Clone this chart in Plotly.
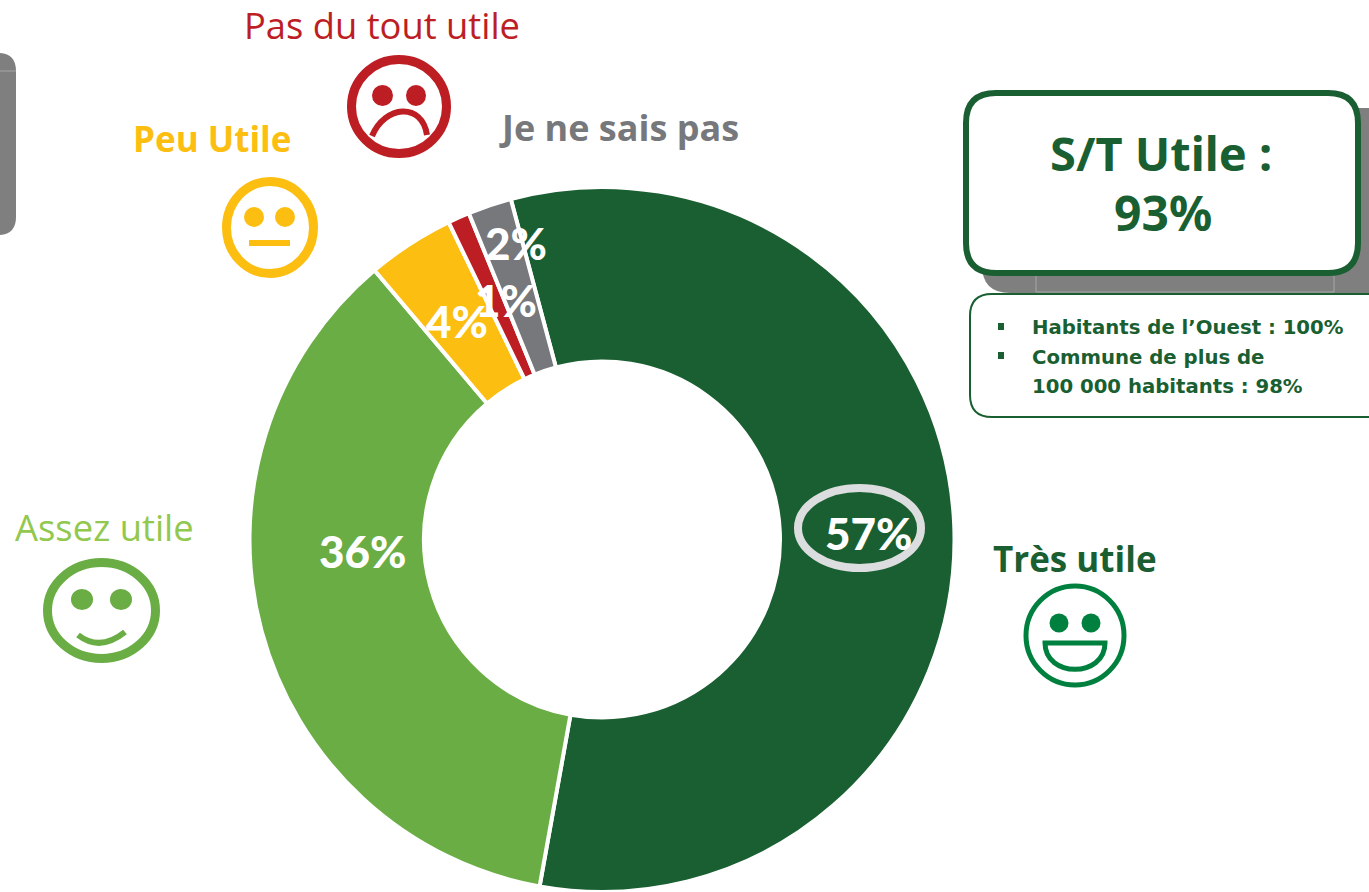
import plotly.graph_objects as go

W, H = 1369, 892

# Chart data
categories = ["Très utile", "Assez utile", "Peu Utile", "Pas du tout utile", "Je ne sais pas"]
values = [57, 36, 4, 1, 2]
slice_colors = ["#1a5f31", "#6aad45", "#fdbe12", "#bd1e24", "#77787b"]

# Layout constants
CX, CY, R = 602, 539.5, 352.5
HOLE = 0.505
value_label_centres = [(868, 533), (362, 551), (457, 321), (506, 300), (516, 243)]
category_label_specs = [
    (1075, 558, "#1a5f31", 35, True),
    (104, 527, "#92c84e", 36.4, False),
    (212, 139, "#fdbe12", 35, True),
    (382, 25, "#bd1e24", 36.3, False),
    (619, 128, "#77787b", 36, True),
]
FONT = "Open Sans"
BOLD_FONT = "Noto Sans"
BOX_FONT = "DejaVu Sans"
DARK = "#1a5f31"
SHADOW = "#7f7f7f"


def px(x):
    return x / W


def py(y):
    return 1 - y / H


def path(s):
    """Turn a path written in page pixels into a paper-space path."""
    out, is_x = [], True
    for tok in s.split():
        if tok[0].isalpha():
            out.append(tok)
            is_x = True
        else:
            out.append(f"{px(float(tok)):.6f}" if is_x else f"{py(float(tok)):.6f}")
            is_x = not is_x
    return " ".join(out)


def rrect(x0, y0, x1, y1, r):
    return path(
        f"M {x0 + r} {y0} L {x1 - r} {y0} Q {x1} {y0} {x1} {y0 + r} "
        f"L {x1} {y1 - r} Q {x1} {y1} {x1 - r} {y1} L {x0 + r} {y1} "
        f"Q {x0} {y1} {x0} {y1 - r} L {x0} {y0 + r} Q {x0} {y0} {x0 + r} {y0} Z"
    )


def shape_path(d, fill=None, line=None, width=0):
    return dict(
        type="path", xref="paper", yref="paper", path=d, layer="above",
        fillcolor=fill or "rgba(0,0,0,0)",
        line=dict(color=line or "rgba(0,0,0,0)", width=width),
    )


def oval(x0, y0, x1, y1, fill=None, line=None, width=0):
    return dict(
        type="circle", xref="paper", yref="paper", layer="above",
        x0=px(x0), x1=px(x1), y0=py(y1), y1=py(y0),
        fillcolor=fill or "rgba(0,0,0,0)",
        line=dict(color=line or "rgba(0,0,0,0)", width=width),
    )


def rect(x0, y0, x1, y1, fill=None, line=None, width=0):
    return dict(
        type="rect", xref="paper", yref="paper", layer="above",
        x0=px(x0), x1=px(x1), y0=py(y1), y1=py(y0),
        fillcolor=fill or "rgba(0,0,0,0)",
        line=dict(color=line or "rgba(0,0,0,0)", width=width),
    )


def text(x, y, s, color, size, bold=False, family=FONT, anchor="center", weight=None):
    font = dict(family=family, size=size, color=color)
    if weight:
        font["weight"] = weight
    return dict(
        xref="paper", yref="paper", x=px(x), y=py(y), text=f"<b>{s}</b>" if bold else s,
        showarrow=False, xanchor=anchor, yanchor="middle", align="center",
        font=font,
    )


fig = go.Figure(
    go.Pie(
        labels=categories,
        values=values,
        sort=False,
        direction="clockwise",
        rotation=-15,
        hole=HOLE,
        textinfo="none",
        showlegend=False,
        marker=dict(colors=slice_colors, line=dict(color="white", width=4)),
        domain=dict(
            x=[px(CX - R), px(CX + R)],
            y=[py(CY + R), py(CY - R)],
        ),
    )
)

shapes = []
# Left cropped grey panel
shapes.append(shape_path(rrect(-60, 53, 16, 235, 18), fill=SHADOW))
shapes.append(shape_path(path("M 0 71 L 16 71"), line="#a8a8a8", width=1))
# Callout shadow and boxes
shapes.append(shape_path(rrect(982, 108, 1420, 293, 28), fill=SHADOW))
shapes.append(rect(1036, 272, 1334, 292, line="#a8a8a8", width=1))
shapes.append(shape_path(rrect(966, 93, 1358, 273, 30), fill="white", line=DARK, width=6))
shapes.append(shape_path(rrect(970, 294, 1420, 417, 22), fill="white", line=DARK, width=2))
shapes.append(rect(998, 323, 1004, 330, fill=DARK))
shapes.append(rect(998, 352, 1004, 359, fill=DARK))
# Ellipse round the top score
shapes.append(oval(798, 488, 921, 568, line="#dcddde", width=8))
# Red sad face
RED = slice_colors[3]
shapes.append(oval(351.5, 59.5, 446.5, 153.5, line=RED, width=9))
shapes.append(oval(372, 85, 393, 106, fill=RED))
shapes.append(oval(406, 85, 426, 106, fill=RED))
shapes.append(shape_path(path("M 372 136 C 385 105 422 102 427 135"), line=RED, width=6))
# Yellow neutral face
YEL = slice_colors[2]
shapes.append(oval(226.5, 181.5, 313.5, 273.5, line=YEL, width=9))
shapes.append(oval(244, 207, 264, 227, fill=YEL))
shapes.append(oval(275, 207, 295, 227, fill=YEL))
shapes.append(rect(249, 240, 290, 246, fill=YEL))
# Light green smile
LG = slice_colors[1]
shapes.append(oval(47.5, 562.5, 155.5, 658.5, line=LG, width=9))
shapes.append(oval(71, 589, 93, 610, fill=LG))
shapes.append(oval(110, 589, 132, 610, fill=LG))
shapes.append(shape_path(path("M 78 635 Q 100 652 125 632"), line=LG, width=6))
# Dark green laugh
TG = "#00803e"
shapes.append(oval(1026, 586, 1124, 685, line=TG, width=5))
shapes.append(oval(1049.5, 613.5, 1068.5, 632.5, fill=TG))
shapes.append(oval(1081.5, 613.5, 1100.5, 632.5, fill=TG))
shapes.append(shape_path(path("M 1045 643 L 1105 643 C 1105 678 1045 678 1045 643 Z"), line=TG, width=5))

ann = []
for (x, y), v in zip(value_label_centres, values):
    ann.append(text(x, y, f"{v}%", "white", 44, False, "Lato", weight=900))
for (x, y, c, s, b), cat in zip(category_label_specs, categories):
    ann.append(text(x, y, cat, c, s, b))
ann.append(text(1161, 153, "S/T Utile :", DARK, 47, True, BOLD_FONT))
ann.append(text(1163, 213, "93%", DARK, 48, True, BOLD_FONT))
ann.append(text(1030, 328, "Habitants de l’Ouest : 100%", DARK, 19.7, True, BOX_FONT, "left"))
ann.append(text(1030, 357, "Commune de plus de", DARK, 19.7, True, BOX_FONT, "left"))
ann.append(text(1030, 386, "100 000 habitants : 98%", DARK, 19.7, True, BOX_FONT, "left"))

fig.update_layout(
    width=W, height=H, margin=dict(l=0, r=0, t=0, b=0),
    paper_bgcolor="white", plot_bgcolor="white",
    shapes=shapes, annotations=ann,
)
fig.write_html("out.html", config=dict(displayModeBar=False),
               post_script="document.body.style.margin='0';")
